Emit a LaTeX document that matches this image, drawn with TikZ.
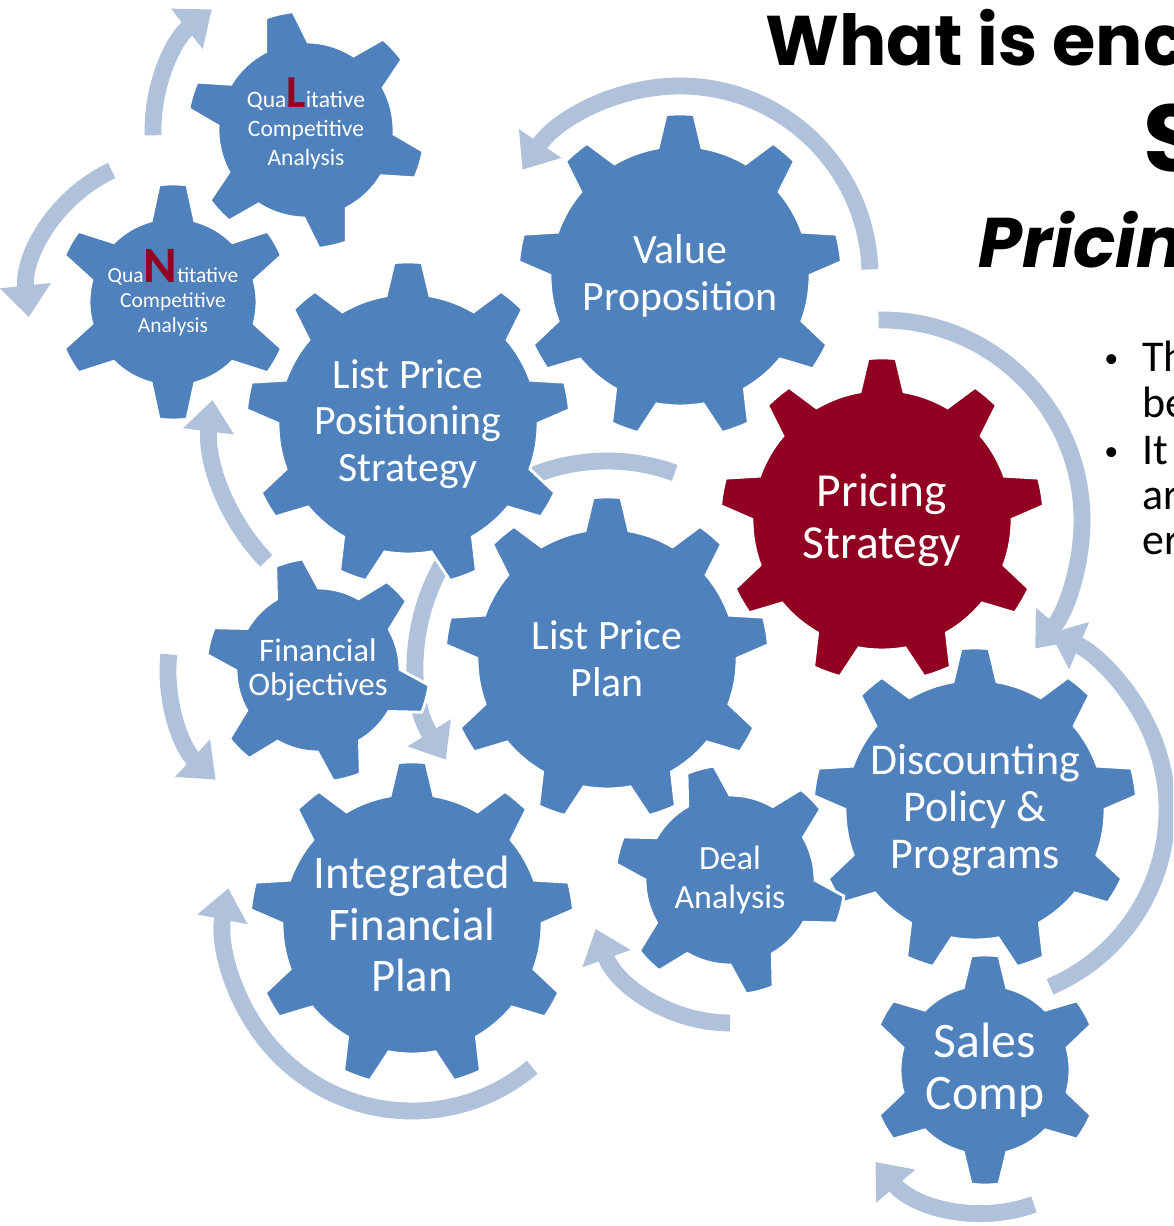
\documentclass[tikz,border=0pt]{standalone}
\usepackage{fontspec}
\setmainfont{Carlito}
\newfontfamily\titlefont{Poppins}
\usetikzlibrary{arrows.meta}

\definecolor{gearblue}{RGB}{79,129,189}
\definecolor{gearred}{RGB}{145,0,33}
\definecolor{arrowblue}{RGB}{176,193,220}

\tikzset{
  gear/.style={fill=gearblue, draw=white, line width=1.6pt},
  redgear/.style={fill=gearred},
  cyclearrow/.style={draw=arrowblue, line width=9.6pt, -{Triangle[width=28pt,length=18pt]}},
  cycleband/.style={draw=arrowblue, line width=9.6pt},
  geartext/.style={text=white, align=center, inner sep=0pt},
  titletext/.style={font=\titlefont\bfseries\fontsize{40}{46}\selectfont, anchor=base west, inner sep=0pt},
  bullettext/.style={font=\fontsize{25}{26}\selectfont, anchor=base west, inner sep=0pt}
}

% #1 centre, #2 tip radius, #3 body radius, #4 teeth, #5 first tooth angle, #6 extra style
\newcommand{\gear}[6]{%
  \pgfmathsetmacro{\gstep}{360/#4}
  \pgfmathsetmacro{\gtip}{deg(14/#2)}
  \pgfmathsetmacro{\gbase}{deg(22/#3)}
  \pgfmathtruncatemacro{\glast}{#4-1}
  \filldraw[gear, #6, shift={(#1)}] (#5-\gbase:#3)
    \foreach \k in {0,...,\glast}{
      -- ({#5+\k*\gstep-\gtip}:#2)
      arc[start angle={#5+\k*\gstep-\gtip}, end angle={#5+\k*\gstep+\gtip}, radius=#2]
      -- ({#5+\k*\gstep+\gbase}:#3)
      arc[start angle={#5+\k*\gstep+\gbase}, end angle={#5+(\k+1)*\gstep-\gbase}, radius=#3]
    } -- cycle;
}

\begin{document}
\begin{tikzpicture}[x=0.02cm, y=0.02cm]
  \useasboundingbox (0,0) rectangle (1173,1226);
  \clip (0,0) rectangle (1173,1226);

  % gear centres
  \coordinate (ql) at (306,1096);
  \coordinate (qn) at (173,924);
  \coordinate (lpps) at (408,802);
  \coordinate (vp) at (680,950);
  \coordinate (ps) at (882,706);
  \coordinate (lpp) at (607,567);
  \coordinate (fo) at (318,556);
  \coordinate (ifp) at (412,302);
  \coordinate (da) at (730,346);
  \coordinate (dpp) at (975,416);
  \coordinate (sc) at (985,156);

  % arrows behind the gears
  \draw[cyclearrow] ([shift={(182:153)}]ql) arc[start angle=182, end angle=128, radius=153];
  \draw[cyclearrow] ([shift={(115:145)}]qn) arc[start angle=115, end angle=186, radius=145];
  \draw[cyclearrow] ([shift={(224:197)}]lpps) arc[start angle=224, end angle=173, radius=197];
  \draw[cycleband] ([shift={(70:198)}]lpp) arc[start angle=70, end angle=118, radius=198];
  \draw[cyclearrow] ([shift={(150:190)}]lpp) arc[start angle=150, end angle=212, radius=190];
  \draw[cyclearrow] ([shift={(2:190)}]vp) arc[start angle=2, end angle=146, radius=190];
  \draw[cyclearrow] ([shift={(91:200)}]ps) arc[start angle=91, end angle=-40, radius=200];
  \draw[cyclearrow] ([shift={(-67:192)}]dpp) arc[start angle=-67, end angle=67, radius=192];
  \draw[cyclearrow] ([shift={(-90:143)}]da) arc[start angle=-90, end angle=-160, radius=143];
  \draw[cyclearrow] ([shift={(-50:187)}]ifp) arc[start angle=-50, end angle=-191, radius=187];
  \draw[cyclearrow] ([shift={(-70:143)}]sc) arc[start angle=-70, end angle=-140, radius=143];
  \draw[cyclearrow] ([shift={(174:150)}]fo) arc[start angle=174, end angle=227, radius=150];

  % gears
  \gear{ql}{119}{88}{6}{103}{}
  \gear{qn}{118}{84}{6}{90}{}
  \gear{vp}{162}{130}{9}{90}{}
  \gear{lpps}{162}{130}{9}{90}{}
  \gear{ps}{162}{130}{9}{90}{redgear}
  \gear{lpp}{162}{130}{9}{90}{}
  \gear{fo}{112}{82}{6}{105}{}
  \gear{ifp}{162}{130}{9}{90}{}
  \gear{dpp}{162}{130}{9}{90}{}
  \gear{da}{115}{85}{6}{105}{}
  \gear{sc}{115}{85}{6}{90}{}

  % gear labels
  \node[geartext, font=\fontsize{13.4}{16.4}\selectfont] (qltext) at (ql)
    {Qua\smash{\textcolor{gearred}{\fontsize{26}{26}\selectfont\bfseries L}}itative\\Competitive\\Analysis};
  \node[geartext, font=\fontsize{12.2}{14.2}\selectfont] (qntext) at (qn)
    {Qua\smash{\textcolor{gearred}{\fontsize{29}{29}\selectfont\bfseries N}}titative\\Competitive\\Analysis};
  \node[geartext, font=\fontsize{23.8}{26.6}\selectfont] (vptext) at (vp) {Value\\Proposition};
  \node[geartext, font=\fontsize{23.8}{26.6}\selectfont] (lppstext) at (lpps) {List Price\\Positioning\\Strategy};
  \node[geartext, font=\fontsize{27}{29.5}\selectfont] (pstext) at (ps) {Pricing\\Strategy};
  \node[geartext, font=\fontsize{23.8}{26.6}\selectfont] (lpptext) at (lpp) {List Price\\Plan};
  \node[geartext, font=\fontsize{18.7}{19.8}\selectfont] (fotext) at (fo) {Financial\\Objectives};
  \node[geartext, font=\fontsize{26.6}{29.5}\selectfont] (ifptext) at (ifp) {Integrated\\Financial\\Plan};
  \node[geartext, font=\fontsize{25}{26.6}\selectfont] (dpptext) at (dpp) {Discounting\\Policy \&\\Programs};
  \node[geartext, font=\fontsize{19.3}{22.7}\selectfont] (datext) at (da) {Deal\\Analysis};
  \node[geartext, font=\fontsize{28.3}{29.5}\selectfont] (sctext) at (sc) {Sales\\Comp};

  % title, cut by the right edge
  \node[titletext] (title) at (765,1160) {What is enc};
  \node[titletext, font=\titlefont\bfseries\fontsize{54}{60}\selectfont] (titles) at (1143,1054) {S};
  \node[titletext, font=\titlefont\bfseries\itshape\fontsize{40}{46}\selectfont] (pricing) at (978,958) {Pricin};

  % bullets, cut by the right edge
  \node[bullettext, font=\fontsize{16}{16}\selectfont] (bul1) at (1104,858) {\textbullet};
  \node[bullettext] (line1) at (1142,854) {Th};
  \node[bullettext] (line2) at (1142,808) {be};
  \node[bullettext, font=\fontsize{16}{16}\selectfont] (bul2) at (1104,765) {\textbullet};
  \node[bullettext] (line3) at (1142,761) {It s};
  \node[bullettext] (line4) at (1142,716) {ar};
  \node[bullettext] (line5) at (1142,671) {er};
\end{tikzpicture}
\end{document}
